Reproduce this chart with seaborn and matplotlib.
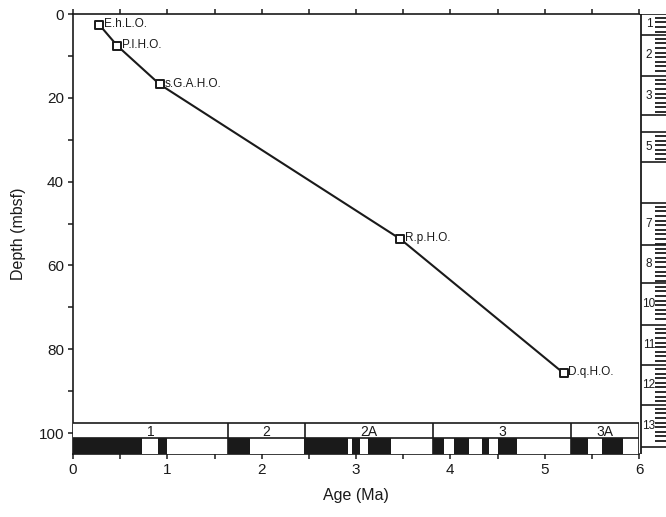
import numpy as np
import pandas as pd
import matplotlib
matplotlib.use("Agg")
import matplotlib.pyplot as plt
from matplotlib.patches import Rectangle
from matplotlib.ticker import MultipleLocator
import seaborn as sns

# Biostratigraphic datums (age in Ma, depth in mbsf)
datum_names = ["E.h.L.O.", "P.l.H.O.", "s.G.A.H.O.", "R.p.H.O.", "D.q.H.O."]
datum_ages = [0.28, 0.47, 0.92, 3.47, 5.20]
datum_depths = [2.6, 7.6, 16.8, 53.7, 85.7]

# Polarity time scale: normal intervals (black) and chron boundaries
normal_starts = [0.00, 0.90, 1.64, 2.45, 2.96, 3.13, 3.82, 4.04, 4.34, 4.51, 5.28, 5.61]
normal_ends = [0.73, 1.00, 1.88, 2.91, 3.04, 3.37, 3.93, 4.20, 4.41, 4.71, 5.46, 5.83]
chron_bounds = [0.0, 1.64, 2.46, 3.82, 5.28, 6.0]
chron_names = ["1", "2", "2A", "3", "3A"]

# Core recovery column
core_tops = [0.0, 5.0, 14.8, 24.1, 28.2, 35.3, 45.1, 55.1, 64.2, 74.2, 83.8, 93.3]
core_bottoms = [5.0, 14.8, 24.1, 28.2, 35.3, 45.1, 55.1, 64.2, 74.2, 83.8, 93.3, 103.3]
core_labels = ["1", "2", "3", "", "5", "", "7", "8", "10", "11", "12", "13"]

sns.set_theme(style="ticks")
plt.rcParams["font.family"] = ["Liberation Sans", "DejaVu Sans"]
ink = "#1a1a1a"

W, H = 666, 517
fig = plt.figure(figsize=(W / 100, H / 100), dpi=100)
ax_l, ax_r, ax_t, ax_b = 73, 639, 14, 454
ax = fig.add_axes([ax_l / W, 1 - ax_b / H, (ax_r - ax_l) / W, (ax_b - ax_t) / H])

df = pd.DataFrame({"age": datum_ages, "depth": datum_depths, "name": datum_names})
sns.lineplot(data=df, x="age", y="depth", sort=False, color=ink, lw=1.5, ax=ax, zorder=3)
sns.scatterplot(data=df, x="age", y="depth", marker="s", s=26, facecolor="white",
                edgecolor=ink, linewidth=1.4, ax=ax, zorder=4)
for _, r in df.iterrows():
    ax.annotate(r["name"], (r["age"], r["depth"]), xytext=(3.2, 0.5), textcoords="offset points",
                ha="left", va="center", fontsize=8.5, color=ink)

ymax = 105.0
ax.set_xlim(0, 6)
ax.set_ylim(ymax, 0)

# Magnetic polarity strip along the bottom of the plot
strip_top, strip_mid = 97.6, 101.2
ax.add_patch(Rectangle((0, strip_top), 6, ymax - strip_top, facecolor="white",
                       edgecolor="none", zorder=5))
for s, e in zip(normal_starts, normal_ends):
    ax.add_patch(Rectangle((s, strip_mid), e - s, ymax - strip_mid, facecolor=ink,
                           edgecolor="none", zorder=6))
ax.hlines([strip_top, strip_mid], 0, 6, color=ink, lw=1.2, zorder=7)
ax.vlines(chron_bounds[1:-1], strip_top, ymax, color=ink, lw=1.2, zorder=7)
ax.vlines([6.0], strip_top, ymax, color=ink, lw=1.2, zorder=7)
for a, b, n in zip(chron_bounds[:-1], chron_bounds[1:], chron_names):
    ax.text((a + b) / 2, (strip_top + strip_mid) / 2 + 0.3, n, ha="center", va="center",
            fontsize=10, color=ink, zorder=8)

ax.xaxis.set_major_locator(MultipleLocator(1))
ax.xaxis.set_minor_locator(MultipleLocator(0.5))
ax.yaxis.set_major_locator(MultipleLocator(20))
ax.yaxis.set_minor_locator(MultipleLocator(10))
ax.tick_params(axis="both", which="both", direction="out", length=3.5, width=1.1,
               color=ink, labelsize=11, labelcolor=ink, pad=3)
ax.tick_params(axis="x", which="both", top=True, labeltop=False)
for side in ["left", "bottom", "top"]:
    ax.spines[side].set_color(ink)
    ax.spines[side].set_linewidth(1.2)
ax.spines["right"].set_visible(False)
ax.set_xlabel("Age (Ma)", fontsize=11.5, color=ink, labelpad=8)
ax.set_ylabel("Depth (mbsf)", fontsize=11.5, color=ink, labelpad=9)

# Core column on the right edge (x in pixel units)
cax = fig.add_axes([ax_r / W, 1 - ax_b / H, (700 - ax_r) / W, (ax_b - ax_t) / H])
cax.set_xlim(ax_r, 700)
cax.set_ylim(ymax, 0)
cax.axis("off")
cax.vlines([641], 0, ymax, color=ink, lw=1.3)
cax.hlines([0], ax_r, 700, color=ink, lw=1.2)
for top, bot, lab in zip(core_tops, core_bottoms, core_labels):
    cax.hlines([bot], 641, 700, color=ink, lw=1.2)
    if lab:
        cax.text(649, (top + bot) / 2, lab, ha="center", va="center", fontsize=8.5, color=ink)
        ticks = np.arange(top + 0.9, bot - 0.3, 1.1)
        cax.hlines(ticks, 655, 700, color=ink, lw=1.3)

fig.savefig("out.png", dpi=100)
